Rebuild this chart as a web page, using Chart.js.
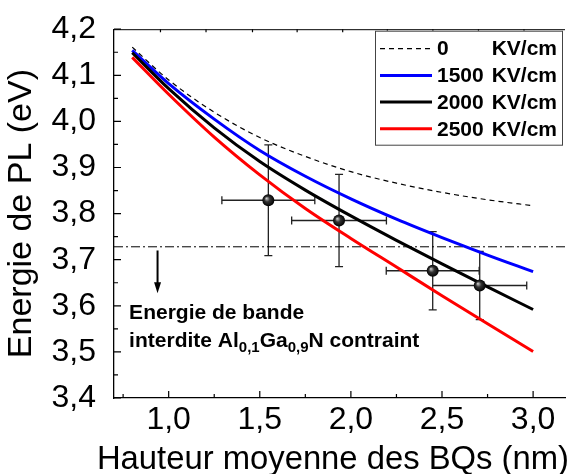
<!DOCTYPE html>
<html>
<head>
<meta charset="utf-8">
<script src="https://cdn.jsdelivr.net/npm/chart.js@4.4.1/dist/chart.umd.min.js"></script>
<style>
  html, body { margin: 0; padding: 0; background: #fff; }
</style>
</head>
<body>
<canvas id="chart" width="571" height="474"></canvas>
<script>
// model curves (transition energy vs dot height)
const heights = [0.8, 1.0, 1.25, 1.5, 1.75, 2.0, 2.25, 2.5, 2.75, 3.0];
const energy0 = [4.161, 4.09, 4.02, 3.965, 3.924, 3.891, 3.866, 3.846, 3.83, 3.817];
const energy1500 = [4.154, 4.082, 4.005, 3.937, 3.881, 3.832, 3.788, 3.748, 3.710, 3.674];
const energy2000 = [4.149, 4.071, 3.986, 3.913, 3.851, 3.795, 3.742, 3.691, 3.641, 3.592];
const energy2500 = [4.139, 4.059, 3.966, 3.884, 3.811, 3.746, 3.684, 3.622, 3.561, 3.501];
const fields = ["0", "1500", "2000", "2500"];

// measured PL points
const expHeights = [1.547, 1.935, 2.449, 2.707];
const expEnergy = [3.829, 3.785, 3.676, 3.644];
const expHeightErr = [0.255, 0.26, 0.255, 0.258];
const expEnergyErr = [0.12, 0.1, 0.085, 0.074];

// strained AlGaN band gap
const gapEnergy = 3.728;

// axes
const xMin = 0.7, xMax = 3.175, yMin = 3.4, yMax = 4.2;
const xMajorTicks = [1.0, 1.5, 2.0, 2.5, 3.0];
const xMinorTicks = [0.75, 1.25, 1.75, 2.25, 2.75];
const topTicks = [0.955, 1.205, 1.46, 1.705, 1.955, 2.2, 2.45, 2.7, 2.95];
const yMajorTicks = [3.4, 3.5, 3.6, 3.7, 3.8, 3.9, 4.0, 4.1, 4.2];
const yMinorTicks = [3.45, 3.55, 3.65, 3.75, 3.85, 3.95, 4.05, 4.15];
const xTitle = "Hauteur moyenne des BQs (nm)";

const FONT = '"Liberation Sans", Arial, Helvetica, sans-serif';
const comma = v => Number(v).toFixed(1).replace(".", ",");
const toXY = (xs, ys) => xs.map((x, i) => ({ x: x, y: ys[i] }));

const curveStyles = [
  { color: "#000000", width: 1.2, dash: [5, 4] },
  { color: "#0000ff", width: 3, dash: [] },
  { color: "#000000", width: 3, dash: [] },
  { color: "#ff0000", width: 3, dash: [] },
];
const curveData = [energy0, energy1500, energy2000, energy2500];

const datasets = [
  {
    label: "PL",
    type: "scatter",
    data: toXY(expHeights, expEnergy),
    order: 0,
    pointRadius: 6,
    pointHoverRadius: 6,
    borderWidth: 0,
    backgroundColor: (c) => {
      const ch = c.chart;
      if (!ch.chartArea || c.dataIndex === undefined) return "#000";
      const px = ch.scales.x.getPixelForValue(expHeights[c.dataIndex]);
      const py = ch.scales.y.getPixelForValue(expEnergy[c.dataIndex]);
      const g = ch.ctx.createRadialGradient(px - 2, py - 2, 0, px, py, 6);
      g.addColorStop(0, "#d8d8d8");
      g.addColorStop(0.45, "#333");
      g.addColorStop(1, "#000");
      return g;
    },
  },
];
curveData.forEach((vals, i) => {
  datasets.push({
    label: fields[i] + " KV/cm",
    data: toXY(heights, vals),
    order: 4 - i,
    borderColor: curveStyles[i].color,
    borderWidth: curveStyles[i].width,
    borderDash: curveStyles[i].dash,
    pointRadius: 0,
    fill: false,
    cubicInterpolationMode: "monotone",
  });
});
datasets.push({
  label: "gap",
  data: [{ x: xMin, y: gapEnergy }, { x: xMax, y: gapEnergy }],
  order: 6,
  borderColor: "#000",
  borderWidth: 1,
  borderDash: [9, 3, 2, 3],
  pointRadius: 0,
  fill: false,
});

const errorBars = {
  id: "errorBars",
  beforeDatasetsDraw(chart) {
    const { ctx, scales: { x, y } } = chart;
    ctx.save();
    ctx.strokeStyle = "#222";
    ctx.lineWidth = 1.3;
    ctx.beginPath();
    expHeights.forEach((h, i) => {
      const cx = x.getPixelForValue(h), cy = y.getPixelForValue(expEnergy[i]);
      const x1 = x.getPixelForValue(h - expHeightErr[i]);
      const x2 = x.getPixelForValue(h + expHeightErr[i]);
      const y1 = y.getPixelForValue(expEnergy[i] + expEnergyErr[i]);
      const y2 = y.getPixelForValue(expEnergy[i] - expEnergyErr[i]);
      ctx.moveTo(x1, cy); ctx.lineTo(x2, cy);
      ctx.moveTo(x1, cy - 4); ctx.lineTo(x1, cy + 4);
      ctx.moveTo(x2, cy - 4); ctx.lineTo(x2, cy + 4);
      ctx.moveTo(cx, y1); ctx.lineTo(cx, y2);
      ctx.moveTo(cx - 4, y1); ctx.lineTo(cx + 4, y1);
      ctx.moveTo(cx - 4, y2); ctx.lineTo(cx + 4, y2);
    });
    ctx.stroke();
    ctx.restore();
  },
};

const frameTicks = {
  id: "frameTicks",
  afterDraw(chart) {
    const { ctx, chartArea: a, scales: { x, y } } = chart;
    ctx.save();
    ctx.strokeStyle = "#000";
    ctx.lineWidth = 1.2;
    ctx.beginPath();
    yMajorTicks.forEach(v => { const p = y.getPixelForValue(v); ctx.moveTo(a.left, p); ctx.lineTo(a.left + 7, p); });
    yMinorTicks.forEach(v => { const p = y.getPixelForValue(v); ctx.moveTo(a.left, p); ctx.lineTo(a.left + 4, p); });
    xMajorTicks.forEach(v => { const p = x.getPixelForValue(v); ctx.moveTo(p, a.bottom); ctx.lineTo(p, a.bottom - 7); });
    xMinorTicks.forEach(v => { const p = x.getPixelForValue(v); ctx.moveTo(p, a.bottom); ctx.lineTo(p, a.bottom - 4); });
    topTicks.forEach(v => { const p = x.getPixelForValue(v); ctx.moveTo(p, a.top); ctx.lineTo(p, a.top + 3); });
    ctx.stroke();
    ctx.lineWidth = 1;
    ctx.beginPath();
    ctx.moveTo(a.left, a.top + 0.5); ctx.lineTo(a.right, a.top + 0.5);
    ctx.stroke();
    // x axis title, allowed to run left of the plot like the original
    ctx.fillStyle = "#000";
    ctx.font = "32.8px " + FONT;
    ctx.textAlign = "right";
    ctx.textBaseline = "alphabetic";
    ctx.fillText(xTitle, chart.width - 2, chart.height - 5);
    ctx.restore();
  },
};

const boxLegend = {
  id: "boxLegend",
  afterDraw(chart) {
    const { ctx, chartArea: a } = chart;
    const left = a.right - 190, top = a.top + 1.5, w = 187, h = 114;
    ctx.save();
    ctx.fillStyle = "#fff";
    ctx.fillRect(left, top, w, h);
    ctx.strokeStyle = "#444";
    ctx.lineWidth = 1;
    ctx.strokeRect(left + 0.5, top + 0.5, w, h);
    ctx.font = "bold 21px " + FONT;
    ctx.textBaseline = "middle";
    fields.forEach((f, i) => {
      const ry = top + 18 + i * 26.7;
      const st = curveStyles[i];
      ctx.strokeStyle = st.color;
      ctx.lineWidth = st.width;
      ctx.setLineDash(st.dash);
      ctx.beginPath();
      ctx.moveTo(left + 5, ry); ctx.lineTo(left + 57, ry);
      ctx.stroke();
      ctx.setLineDash([]);
      ctx.fillStyle = "#000";
      ctx.textAlign = "left";
      ctx.fillText(f, left + 62, ry + 1);
      ctx.textAlign = "right";
      ctx.fillText("KV/cm", left + w - 5, ry + 1);
    });
    ctx.restore();
  },
};

const gapNote = {
  id: "gapNote",
  afterDraw(chart) {
    const { ctx, scales: { x, y } } = chart;
    ctx.save();
    // arrow
    const ax = x.getPixelForValue(0.939);
    const ay1 = y.getPixelForValue(3.72), ay2 = y.getPixelForValue(3.627);
    ctx.strokeStyle = "#000";
    ctx.fillStyle = "#000";
    ctx.lineWidth = 2;
    ctx.beginPath();
    ctx.moveTo(ax, ay1); ctx.lineTo(ax, ay2 - 8);
    ctx.stroke();
    ctx.beginPath();
    ctx.moveTo(ax - 3.5, ay2 - 11); ctx.lineTo(ax + 3.5, ay2 - 11); ctx.lineTo(ax, ay2);
    ctx.closePath();
    ctx.fill();
    // text
    const tx = x.getPixelForValue(0.783);
    const b1 = y.getPixelForValue(3.5705), b2 = y.getPixelForValue(3.51);
    const big = "bold 21px " + FONT, small = "bold 15px " + FONT;
    ctx.textBaseline = "alphabetic";
    ctx.textAlign = "left";
    ctx.font = big;
    ctx.fillText("Energie de bande", tx, b1);
    const parts = [["interdite Al", big, 0], ["0,1", small, 5], ["Ga", big, 0], ["0,9", small, 5], ["N contraint", big, 0]];
    let cx = tx;
    parts.forEach(([t, f, dy]) => {
      ctx.font = f;
      ctx.fillText(t, cx, b2 + dy);
      cx += ctx.measureText(t).width;
    });
    ctx.restore();
  },
};

new Chart(document.getElementById("chart"), {
  type: "line",
  data: { datasets: datasets },
  options: {
    responsive: false,
    animation: false,
    devicePixelRatio: 1,
    layout: { padding: { top: 24, right: 0, left: 0, bottom: 0 } },
    plugins: { legend: { display: false }, tooltip: { enabled: false } },
    scales: {
      x: {
        type: "linear",
        min: xMin,
        max: xMax,
        afterBuildTicks: (s) => { s.ticks = xMajorTicks.map(v => ({ value: v })); },
        afterFit: (s) => { s.height = 76; },
        grid: { display: false },
        border: { display: true, color: "#000", width: 1.3 },
        ticks: {
          autoSkip: false, maxRotation: 0, padding: -5,
          color: "#000", font: { family: FONT, size: 32 },
          callback: (v) => comma(v),
        },
        title: { display: false },
      },
      y: {
        type: "linear",
        min: yMin,
        max: yMax,
        afterBuildTicks: (s) => { s.ticks = yMajorTicks.map(v => ({ value: v })); },
        afterFit: (s) => { s.width = 114; },
        grid: { display: false },
        border: { display: true, color: "#000", width: 1.3 },
        ticks: {
          autoSkip: false, padding: 10,
          color: "#000", font: { family: FONT, size: 32 },
          callback: (v) => comma(v),
        },
        title: {
          display: true, text: "Energie de PL (eV)", align: "center",
          color: "#000", font: { family: FONT, size: 34, lineHeight: 1 },
          padding: { top: 5, bottom: 0 },
        },
      },
    },
  },
  plugins: [errorBars, frameTicks, boxLegend, gapNote],
});
</script>
</body>
</html>
